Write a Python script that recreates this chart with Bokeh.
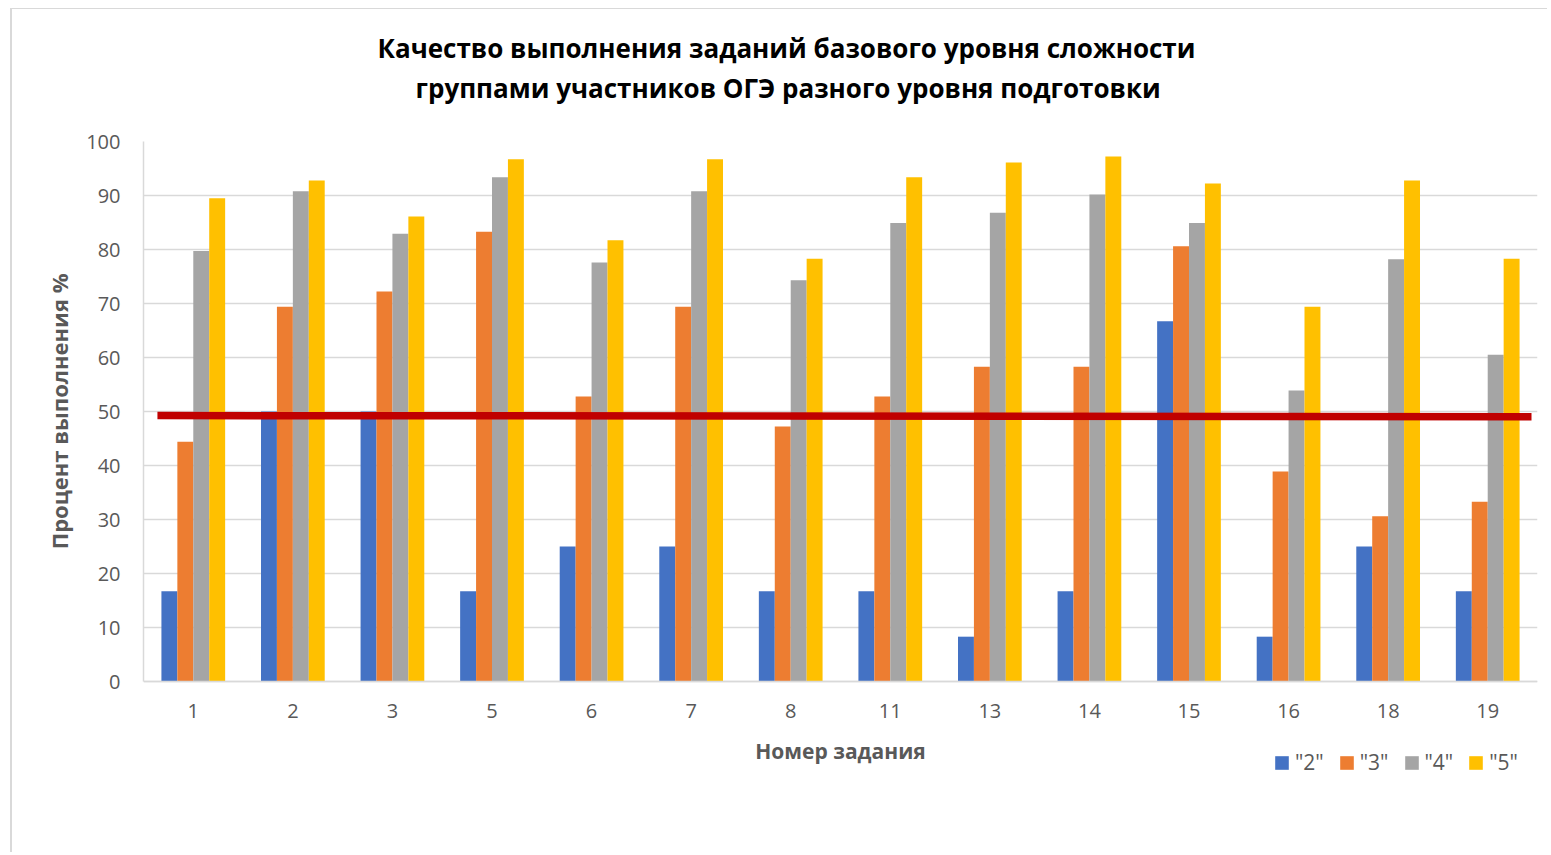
from bokeh.plotting import figure
from bokeh.models import (FactorRange, Range1d, ColumnDataSource, Legend, LegendItem,
                          Title, Label, FixedTicker)
from bokeh.transform import dodge
from bokeh.embed import file_html
from bokeh.resources import INLINE

# ---- data ----
tasks = ["1", "2", "3", "5", "6", "7", "8", "11", "13", "14", "15", "16", "18", "19"]
grade2 = [16.7, 50.0, 50.0, 16.7, 25.0, 25.0, 16.7, 16.7, 8.3, 16.7, 66.7, 8.3, 25.0, 16.7]
grade3 = [44.4, 69.4, 72.2, 83.3, 52.8, 69.4, 47.2, 52.8, 58.3, 58.3, 80.6, 38.9, 30.6, 33.3]
grade4 = [79.7, 90.8, 82.9, 93.4, 77.6, 90.8, 74.3, 84.9, 86.8, 90.2, 84.9, 53.9, 78.2, 60.5]
grade5 = [89.5, 92.8, 86.1, 96.7, 81.7, 96.7, 78.3, 93.4, 96.1, 97.2, 92.2, 69.4, 92.8, 78.3]
series_names = ['"2"', '"3"', '"4"', '"5"']
series_colors = ["#4472C4", "#ED7D31", "#A5A5A5", "#FFC000"]
y_ticks = [0, 10, 20, 30, 40, 50, 60, 70, 80, 90, 100]
avg_line_x = [0.14, 13.94]
avg_line_y = [49.25, 49.05]
title_lines = ["Качество выполнения заданий базового уровня сложности",
               "группами участников ОГЭ разного уровня подготовки"]
y_title = "Процент выполнения %"
x_title = "Номер задания"

FONT = "Open Sans"
GRAY_TXT = "#595959"

src = ColumnDataSource(dict(task=tasks, g2=grade2, g3=grade3, g4=grade4, g5=grade5))

# frame extends below the zero line so that the legend and x title fit inside it
p = figure(x_range=FactorRange(*tasks), y_range=Range1d(-20.74, 100),
           width=1537, height=844, output_backend="svg", toolbar_location=None,
           min_border_left=131, min_border_right=12, min_border_top=132, min_border_bottom=60)
p.styles = {"border-left": "2px solid #D9D9D9", "border-top": "1px solid #D9D9D9",
            "margin-left": "10px", "margin-top": "8px"}
p.outline_line_color = None
p.background_fill_color = "white"
p.border_fill_color = "white"

renderers = []
offsets = [-0.24, -0.08, 0.08, 0.24]
for col, off, color in zip(["g2", "g3", "g4", "g5"], offsets, series_colors):
    r = p.vbar(x=dodge("task", off, range=p.x_range), top=col, width=0.16, source=src,
               fill_color=color, line_color=None)
    renderers.append(r)

p.line(x=avg_line_x, y=avg_line_y, line_color="#C00000", line_width=7.5, line_cap="butt")

# axes
p.yaxis.ticker = FixedTicker(ticks=y_ticks)
p.yaxis.bounds = (0, 100)
p.xaxis.fixed_location = 0
for ax in (p.xaxis[0], p.yaxis[0]):
    ax.major_tick_line_color = None
    ax.minor_tick_line_color = None
    ax.major_tick_out = 0
    ax.major_tick_in = 0
    ax.major_label_text_font = FONT
    ax.major_label_text_font_size = "20px"
    ax.major_label_text_color = GRAY_TXT
    ax.axis_line_color = "#D9D9D9"
    ax.axis_line_width = 1.5
p.yaxis.major_label_standoff = 23
p.xaxis.major_label_standoff = 22
p.xgrid.grid_line_color = None
p.ygrid.grid_line_color = "#D9D9D9"
p.ygrid.grid_line_width = 1.5

# y axis title (placed beside the 0..100 part of the axis)
p.add_layout(Title(text=y_title, align="right", offset=132, standoff=19,
                   text_font=FONT, text_font_size="22px", text_font_style="bold",
                   text_color=GRAY_TXT), "left")

# x axis title
p.add_layout(Label(x=7.0, y=-12.96, text=x_title, text_align="center", text_baseline="middle",
                   text_font=FONT, text_font_size="21px", text_font_style="bold",
                   text_color=GRAY_TXT))

# chart title: spacer + two lines (nearest-to-frame first)
p.add_layout(Title(text=" ", standoff=0, text_font=FONT, text_font_size="25px"), "above")
p.add_layout(Title(text=title_lines[1], align="left", offset=272, standoff=0,
                   text_font=FONT, text_font_size="26px", text_font_style="bold",
                   text_color="#000000"), "above")
p.add_layout(Title(text=title_lines[0], align="left", offset=234, standoff=4,
                   text_font=FONT, text_font_size="26px", text_font_style="bold",
                   text_color="#000000"), "above")

legend = Legend(items=[LegendItem(label=n, renderers=[r]) for n, r in zip(series_names, renderers)],
                orientation="horizontal", location=(1130, 17), border_line_color=None,
                background_fill_alpha=0, padding=0, margin=0, spacing=14, label_standoff=5,
                glyph_width=17, glyph_height=17, label_text_font=FONT,
                label_text_font_size="21px", label_text_color=GRAY_TXT)
p.add_layout(legend, "center")

open("out.html", "w").write(file_html(p, INLINE))
